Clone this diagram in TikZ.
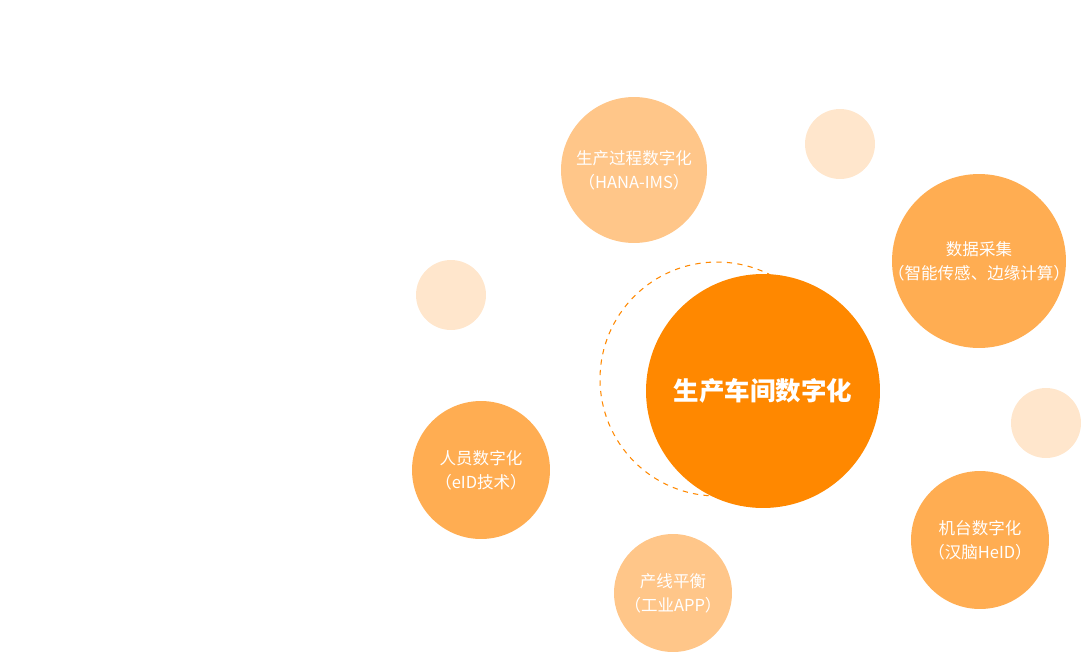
\documentclass[tikz,border=0pt]{standalone}
\usepackage{fontspec}
\setmainfont{Noto Sans CJK SC}
\usepackage{tikz}
\usetikzlibrary{positioning}
\definecolor{CoreOrange}{RGB}{255,136,0}
\definecolor{MidOrange}{RGB}{255,173,82}
\definecolor{LightOrange}{RGB}{255,198,137}
\definecolor{PaleOrange}{RGB}{255,230,204}

\tikzset{
  bubble/.style={circle,inner sep=0pt},
  caption/.style={text=white,align=center,font=\fontsize{9.4}{13.6}\selectfont},
  dot/.style={circle,inner sep=0pt,fill=PaleOrange,minimum size=1.4cm}
}

\begin{document}
\begin{tikzpicture}[x=0.02cm,y=-0.02cm]
				\useasboundingbox (0,0) rectangle (1082,653);
				
				% ring behind the core
				\node[circle,draw=CoreOrange,dashed,line width=0.6pt,minimum size=4.68cm,inner sep=0pt] (ring) at (717,379) {};
				
				\node[bubble,fill=CoreOrange,minimum size=4.68cm,
				label={[caption,font=\fontsize{14.5}{18}\selectfont\bfseries]center:生产车间数字化}] (core) at (763,391) {};
				
				\node[bubble,fill=LightOrange,minimum size=2.92cm,
				label={[caption]center:生产过程数字化\\（HANA-IMS）}] (process) at (634,170) {};
				\node[bubble,fill=MidOrange,minimum size=3.48cm,
				label={[caption]center:数据采集\\（智能传感、边缘计算）}] (data) at (979,261) {};
				\node[bubble,fill=MidOrange,minimum size=2.76cm,
				label={[caption]center:人员数字化\\（eID技术）}] (staff) at (481,470) {};
				\node[bubble,fill=LightOrange,minimum size=2.36cm,
				label={[caption]center:产线平衡\\（工业APP）}] (line) at (673,593) {};
				\node[bubble,fill=MidOrange,minimum size=2.76cm,
				label={[caption]center:机台数字化\\（汉脑HeID）}] (machine) at (980,540) {};
				
				\foreach \i/\x/\y in {1/840/144,2/451/295,3/1046/423}
				\node[dot] (d\i) at (\x,\y) {};
			\end{tikzpicture}
\end{document}
